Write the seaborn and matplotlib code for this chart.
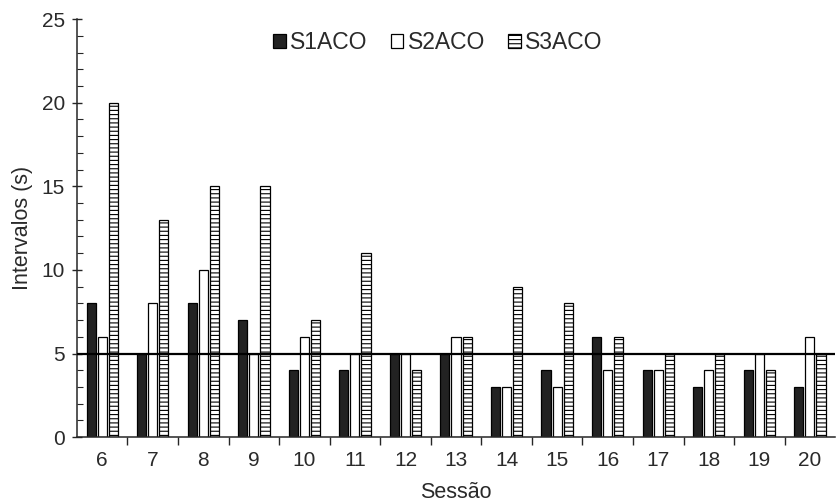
import numpy as np
import pandas as pd
import matplotlib
matplotlib.use("Agg")
import matplotlib.pyplot as plt
from matplotlib.ticker import MultipleLocator, FixedLocator
import seaborn as sns

sessoes = [6, 7, 8, 9, 10, 11, 12, 13, 14, 15, 16, 17, 18, 19, 20]
s1aco = [8, 5, 8, 7, 4, 4, 5, 5, 3, 4, 6, 4, 3, 4, 3]
s2aco = [6, 8, 10, 5, 6, 5, 5, 6, 3, 3, 4, 4, 4, 5, 6]
s3aco = [20, 13, 15, 15, 7, 11, 4, 6, 9, 8, 6, 5, 5, 4, 5]
series = ["S1ACO", "S2ACO", "S3ACO"]
criterio = 5

df = pd.DataFrame({
    "Sessão": sessoes * 3,
    "Intervalo": s1aco + s2aco + s3aco,
    "Série": [s for s in series for _ in sessoes],
})

sns.set_style("ticks")
plt.rcParams['font.family'] = ['Liberation Sans', 'DejaVu Sans']
plt.rcParams['hatch.linewidth'] = 0.8
plt.rcParams['text.color'] = '#2a2a2a'
plt.rcParams['xtick.labelcolor'] = '#2a2a2a'
plt.rcParams['ytick.labelcolor'] = '#2a2a2a'
plt.rcParams['axes.labelcolor'] = '#2a2a2a'

fig = plt.figure(figsize=(8.36, 5.03), dpi=100)
ax = fig.add_axes([0.092, 0.131, 0.907, 0.831])

sns.barplot(data=df, x="Sessão", y="Intervalo", hue="Série", hue_order=series,
            palette=["#222222", "white", "white"], width=0.66, gap=0.18,
            edgecolor="black", linewidth=0.9, saturation=1, legend=False, ax=ax)

# third series: horizontal line hatch
hatches = [None, None, "----"]
for cont, h in zip(ax.containers, hatches):
    for p in cont:
        if h:
            p.set_hatch(h)

ax.axhline(criterio, color="black", linewidth=1.6, zorder=5)

ax.set_ylim(0, 25)
ax.set_xlim(-0.5, len(sessoes) - 0.5)
ax.yaxis.set_major_locator(MultipleLocator(5))
ax.yaxis.set_minor_locator(MultipleLocator(1))
ax.tick_params(axis="y", which="major", direction="inout", length=7, width=1, labelsize=15, pad=5)
ax.tick_params(axis="y", which="minor", direction="in", length=4, width=0.8)
ax.xaxis.set_minor_locator(FixedLocator(np.arange(0.5, len(sessoes) - 0.5, 1)))
ax.tick_params(axis="x", which="major", length=0, labelsize=15, pad=10)
ax.tick_params(axis="x", which="minor", direction="out", length=6, width=1)

ax.set_xlabel("Sessão", fontsize=15.5, labelpad=9)
ax.set_ylabel("Intervalos (s)", fontsize=15.5, labelpad=6)
for side in ["left", "bottom"]:
    ax.spines[side].set_linewidth(1.1)
sns.despine(ax=ax)

ax.legend(ax.containers, series, loc="center", bbox_to_anchor=(0.524, 0.915),
          bbox_transform=fig.transFigure, ncol=3, frameon=False, fontsize=16.5,
          handlelength=0.55, handleheight=0.55, handletextpad=0.2, columnspacing=1.0)

fig.savefig("out.png", dpi=100)
